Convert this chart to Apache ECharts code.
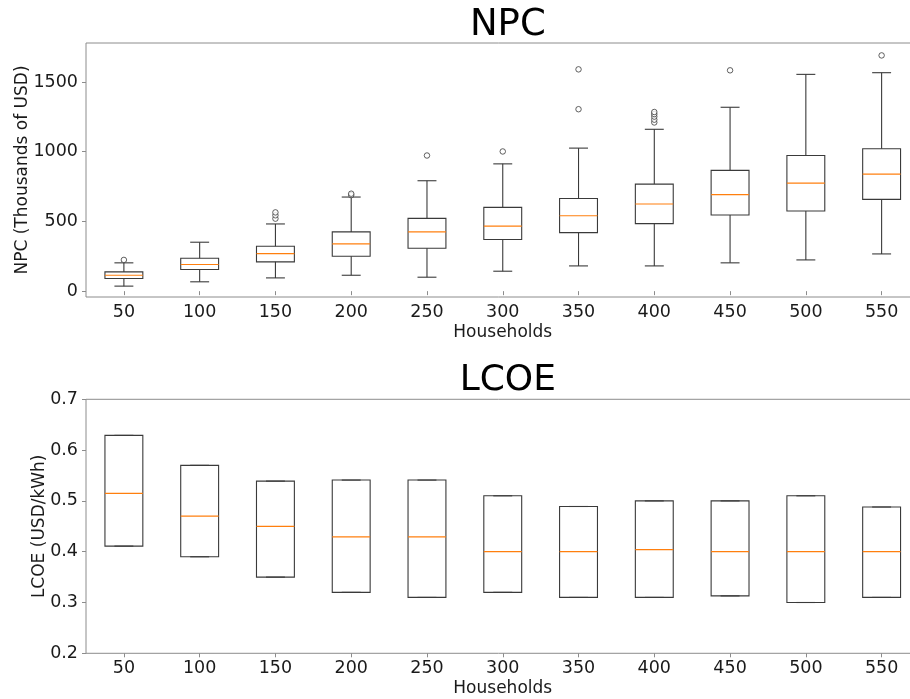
<!DOCTYPE html>
<html>
<head>
<meta charset="utf-8">
<script src="https://cdn.jsdelivr.net/npm/echarts@6/dist/echarts.min.js"></script>
<style>html,body{margin:0;padding:0;background:#fff;}#c{width:910px;height:699px;}</style>
</head>
<body>
<div id="c"></div>
<script>
const categories = ['50','100','150','200','250','300','350','400','450','500','550'];
// NPC (Thousands of USD) box statistics
const npcLow  = [36, 67, 95, 114, 100, 143, 181, 181, 203, 224, 267];
const npcQ1   = [91, 155, 210, 250, 308, 370, 420, 484, 546, 575, 658];
const npcMed  = [114, 191, 269, 339, 425, 467, 541, 625, 692, 775, 840];
const npcQ3   = [138, 236, 322, 425, 522, 601, 665, 768, 866, 973, 1021];
const npcHigh = [203, 351, 482, 675, 792, 913, 1026, 1161, 1319, 1555, 1567];
const npcOutlierCat = [0, 2, 2, 2, 3, 3, 4, 5, 6, 6, 7, 7, 7, 7, 7, 8, 10];
const npcOutlierVal = [224, 520, 544, 565, 689, 699, 973, 1002, 1305, 1591, 1210, 1230, 1252, 1270, 1285, 1584, 1691];
// LCOE (USD/kWh) box statistics
const lcoeQ1  = [0.411, 0.390, 0.350, 0.320, 0.310, 0.320, 0.310, 0.310, 0.313, 0.300, 0.310];
const lcoeMed = [0.515, 0.470, 0.450, 0.429, 0.429, 0.400, 0.400, 0.404, 0.400, 0.400, 0.400];
const lcoeQ3  = [0.629, 0.570, 0.539, 0.541, 0.541, 0.510, 0.489, 0.500, 0.500, 0.510, 0.488];
const npcTicks = [0, 500, 1000, 1500];
const lcoeTicks = [0.2, 0.3, 0.4, 0.5, 0.6, 0.7];

const FONT = 'DejaVu Sans';
const TXT = '#1a1a1a';
const SPINE = '#8c8c8c';
const BOX = '#3a3a3a';
const MED = '#ff7f0e';

const npcData = categories.map((c, i) => [i, npcLow[i], npcQ1[i], npcMed[i], npcQ3[i], npcHigh[i]]);
const lcoeData = categories.map((c, i) => [i, lcoeQ1[i], lcoeQ1[i], lcoeMed[i], lcoeQ3[i], lcoeQ3[i]]);
const outData = npcOutlierCat.map((c, i) => [c, npcOutlierVal[i]]);

function renderBox(params, api) {
  const i = api.value(0);
  const band = api.size([1, 0])[0];
  const hw = band * 0.25, cw = band * 0.125;
  const pL = api.coord([i, api.value(1)]);
  const p1 = api.coord([i, api.value(2)]);
  const pm = api.coord([i, api.value(3)]);
  const p3 = api.coord([i, api.value(4)]);
  const pH = api.coord([i, api.value(5)]);
  const x = pm[0];
  const ls = {stroke: BOX, lineWidth: 1.1, fill: null};
  return {
    type: 'group',
    children: [
      {type: 'line', shape: {x1: x, y1: pL[1], x2: x, y2: p1[1]}, style: ls},
      {type: 'line', shape: {x1: x, y1: p3[1], x2: x, y2: pH[1]}, style: ls},
      {type: 'line', shape: {x1: x - cw, y1: pL[1], x2: x + cw, y2: pL[1]}, style: ls},
      {type: 'line', shape: {x1: x - cw, y1: pH[1], x2: x + cw, y2: pH[1]}, style: ls},
      {type: 'rect', shape: {x: x - hw, y: p3[1], width: 2 * hw, height: p1[1] - p3[1]}, style: {stroke: BOX, lineWidth: 1.1, fill: null}},
      {type: 'line', shape: {x1: x - hw, y1: pm[1], x2: x + hw, y2: pm[1]}, style: {stroke: MED, lineWidth: 1.2}}
    ]
  };
}

function xAxisCfg(gi) {
  return {
    gridIndex: gi, type: 'category', data: categories, boundaryGap: true,
    name: 'Households', nameLocation: 'middle', nameGap: 27, nameMoveOverlap: false,
    nameTextStyle: {fontFamily: FONT, fontSize: 17, color: TXT},
    axisLine: {show: false},
    axisTick: {show: true, alignWithLabel: true, length: 4, lineStyle: {color: SPINE}},
    axisLabel: {fontFamily: FONT, fontSize: 17.5, color: TXT, margin: 6, interval: 0},
    splitLine: {show: false}
  };
}

const chart = echarts.init(document.getElementById('c'), null, {renderer: 'canvas'});
chart.setOption({
  animation: false,
  backgroundColor: '#fff',
  title: [
    {text: 'NPC', left: 502.8, top: 2, textAlign: 'center',
     textStyle: {fontFamily: FONT, fontSize: 37, fontWeight: 'normal', color: '#000'}},
    {text: 'LCOE', left: 502.8, top: 358, textAlign: 'center',
     textStyle: {fontFamily: FONT, fontSize: 36, fontWeight: 'normal', color: '#000'}}
  ],
  grid: [
    {left: 86, top: 43, width: 833.5, height: 254, show: true, borderColor: SPINE, borderWidth: 1,
     backgroundColor: 'transparent', containLabel: false, outerBoundsMode: 'none'},
    {left: 86, top: 399.3, width: 833.5, height: 254, show: true, borderColor: SPINE, borderWidth: 1,
     backgroundColor: 'transparent', containLabel: false, outerBoundsMode: 'none'}
  ],
  xAxis: [xAxisCfg(0), xAxisCfg(1)],
  yAxis: [
    {gridIndex: 0, type: 'value', min: -42, max: 1780,
     name: 'NPC (Thousands of USD)', nameLocation: 'middle', nameGap: 55, nameMoveOverlap: false,
     nameTextStyle: {fontFamily: FONT, fontSize: 17, color: TXT},
     axisLine: {show: false},
     axisTick: {show: true, length: 4, customValues: npcTicks, lineStyle: {color: SPINE}},
     axisLabel: {fontFamily: FONT, fontSize: 17.5, color: TXT, margin: 8, customValues: npcTicks,
                 formatter: v => String(Math.round(v))},
     splitLine: {show: false}},
    {gridIndex: 1, type: 'value', min: 0.2, max: 0.7,
     name: 'LCOE (USD/kWh)', nameLocation: 'middle', nameGap: 37.5, nameMoveOverlap: false,
     nameTextStyle: {fontFamily: FONT, fontSize: 17, color: TXT},
     axisLine: {show: false},
     axisTick: {show: true, length: 4, customValues: lcoeTicks, lineStyle: {color: SPINE}},
     axisLabel: {fontFamily: FONT, fontSize: 17.5, color: TXT, margin: 8, customValues: lcoeTicks,
                 formatter: v => (+v).toFixed(1)},
     splitLine: {show: false}}
  ],
  series: [
    {type: 'custom', xAxisIndex: 0, yAxisIndex: 0, data: npcData, renderItem: renderBox,
     encode: {x: 0, y: [1, 2, 3, 4, 5]}, clip: false},
    {type: 'scatter', xAxisIndex: 0, yAxisIndex: 0, data: outData, symbol: 'circle', symbolSize: 5.5,
     itemStyle: {color: '#fff', borderColor: BOX, borderWidth: 1}},
    {type: 'custom', xAxisIndex: 1, yAxisIndex: 1, data: lcoeData, renderItem: renderBox,
     encode: {x: 0, y: [1, 2, 3, 4, 5]}, clip: false}
  ]
});
</script>
</body>
</html>
